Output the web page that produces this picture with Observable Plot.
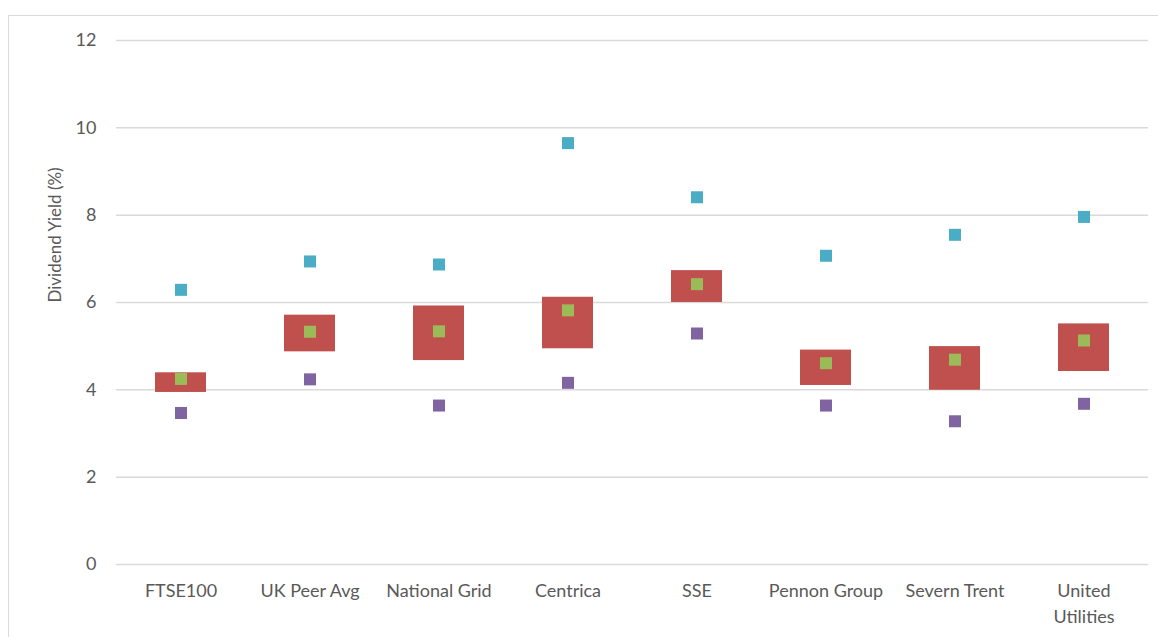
<!DOCTYPE html>
<html>
<head>
<meta charset="utf-8">
<script src="https://cdn.jsdelivr.net/npm/d3@7"></script>
<script src="https://cdn.jsdelivr.net/npm/@observablehq/plot@0.6"></script>
<style>
  html, body { margin: 0; padding: 0; background: #fff; }
  #wrap { position: relative; width: 1158px; height: 637px; overflow: hidden; }
  #frame { position: absolute; left: 8px; top: 15px; width: 1200px; height: 700px; border: 1px solid #d9d9d9; box-sizing: border-box; }
  #chart { position: absolute; left: 0; top: 0; }
</style>
</head>
<body>
<div id="wrap"><div id="frame"></div><div id="chart"></div></div>
<script>
const categories = ["FTSE100", "UK Peer Avg", "National Grid", "Centrica", "SSE", "Pennon Group", "Severn Trent", "United Utilities"];
const tickLabels = ["FTSE100", "UK Peer Avg", "National Grid", "Centrica", "SSE", "Pennon Group", "Severn Trent", "United\nUtilities"];
const boxLow  = [3.94, 4.87, 4.67, 4.94, 6.00, 4.10, 3.99, 4.42];
const boxHigh = [4.39, 5.71, 5.92, 6.12, 6.73, 4.91, 4.99, 5.51];
const current = [4.25, 5.33, 5.34, 5.82, 6.42, 4.61, 4.69, 5.13];
const high    = [6.29, 6.94, 6.87, 9.65, 8.41, 7.07, 7.55, 7.96];
const low     = [3.47, 4.24, 3.64, 4.16, 5.29, 3.64, 3.28, 3.68];
const yTicks  = [0, 2, 4, 6, 8, 10, 12];

const rows = categories.map((c, i) => ({
  cat: c, lo: boxLow[i], hi: boxHigh[i], cur: current[i], max: high[i], min: low[i]
}));
const labelOf = new Map(categories.map((c, i) => [c, tickLabels[i]]));

const sq = 12 / Math.sqrt(Math.PI);

const chart = Plot.plot({
  width: 1158,
  height: 637,
  marginLeft: 116,
  marginRight: 10,
  marginTop: 40,
  marginBottom: 73,
  style: { fontFamily: "Lato, sans-serif", fontSize: "18px", color: "#595959", background: "transparent" },
  x: { domain: categories, padding: 0 },
  y: { domain: [0, 12] },
  marks: [
    Plot.gridY(yTicks, { stroke: "#d9d9d9", strokeOpacity: 1, strokeWidth: 1.5 }),
    Plot.axisY(yTicks, { tickSize: 0, tickPadding: 20, label: null, fill: "#595959", fontSize: 18 }),
    Plot.axisX({ tickSize: 0, tickPadding: 14, label: null, tickFormat: d => labelOf.get(d), lineHeight: 1.45, fill: "#595959", fontSize: 18 }),
    Plot.text(["Dividend Yield (%)"], { frameAnchor: "left", dx: -61, rotate: -90, fill: "#595959", fontSize: 17 }),
    Plot.barY(rows, { x: "cat", y1: "lo", y2: "hi", fill: "#C0504D", insetLeft: 39, insetRight: 39 }),
    Plot.dot(rows, { x: "cat", y: "max", symbol: "square", r: sq, fill: "#4BACC6" }),
    Plot.dot(rows, { x: "cat", y: "min", symbol: "square", r: sq, fill: "#8064A2" }),
    Plot.dot(rows, { x: "cat", y: "cur", symbol: "square", r: sq, fill: "#9BBB59" })
  ]
});
document.getElementById("chart").appendChild(chart);
</script>
</body>
</html>
